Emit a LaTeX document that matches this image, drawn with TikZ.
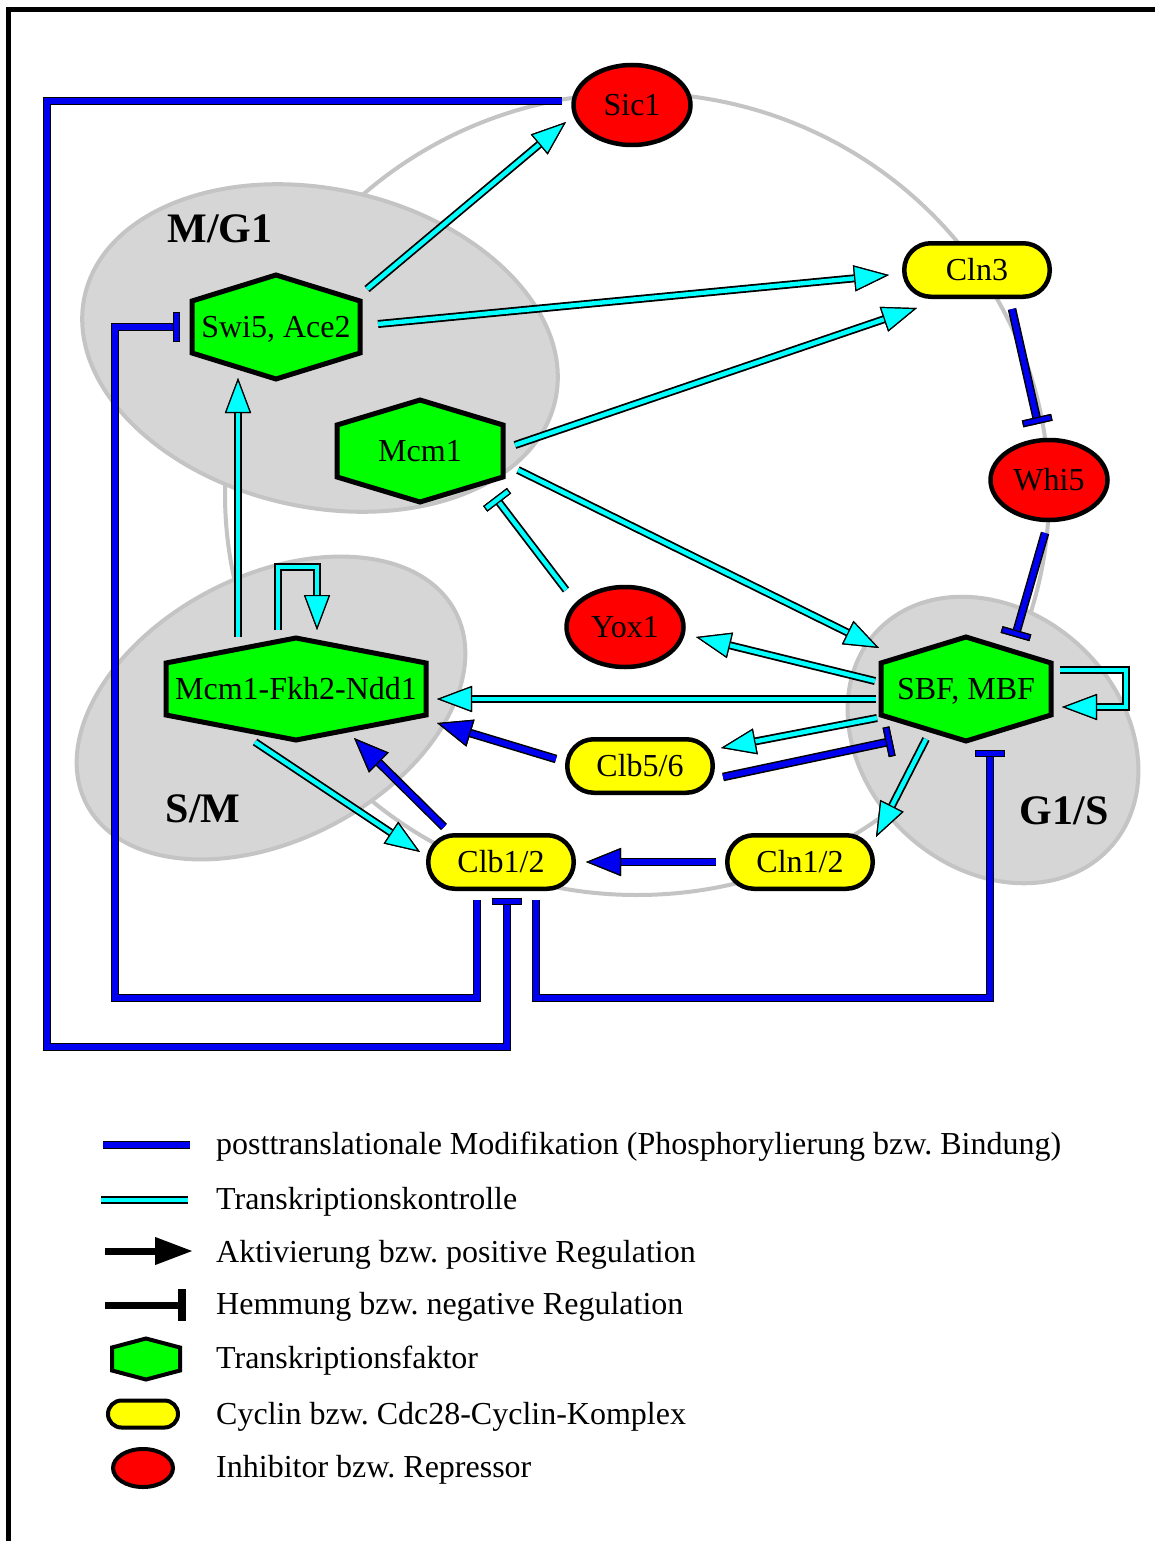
\documentclass[tikz,border=0pt]{standalone}
\usepackage{fontspec}
\setmainfont{Liberation Serif}
\usetikzlibrary{arrows.meta,shapes.geometric,calc}
\frenchspacing
\definecolor{cblue}{RGB}{0,0,240}
\definecolor{ccyan}{RGB}{0,255,255}
\definecolor{cgreen}{RGB}{0,255,0}
\definecolor{cyellow}{RGB}{255,255,0}
\definecolor{cred}{RGB}{255,0,0}
\definecolor{phasefill}{RGB}{214,214,214}
\definecolor{phaseline}{RGB}{196,196,196}
\newcommand{\myNodeFont}{\fontsize{32pt}{38pt}\selectfont}
\newcommand{\myPhaseFont}{\fontsize{42pt}{48pt}\selectfont\bfseries}
% style, name, x, y, half width, half height, half side, text
\newcommand{\hexnode}[8]{%
  \draw[#1] ({#3-#5},{#4-#7}) -- (#3,{#4-#6}) -- ({#3+#5},{#4-#7}) -- ({#3+#5},{#4+#7}) -- (#3,{#4+#6}) -- ({#3-#5},{#4+#7}) -- cycle;
  \node[nodetext] (#2) at (#3,#4) {#8};
}
\tikzset{
  nodetext/.style={inner sep=0pt, font=\myNodeFont, text height=21pt, text depth=0pt},
  hexdraw/.style={draw=black, fill=cgreen, line width=5pt, line join=miter},
  hexsmall/.style={draw=black, fill=cgreen, line width=4pt, line join=miter},
  redell/.style={ellipse, draw=black, fill=cred, line width=4.5pt, minimum width=117pt, minimum height=80pt, nodetext},
  ybox/.style={rectangle, rounded corners=26.5pt, draw=black, fill=cyellow, line width=4.5pt, minimum width=145.5pt, minimum height=53.5pt, nodetext},
  phase/.style={draw=phaseline, fill=phasefill, line width=4pt},
  ring/.style={draw=phaseline, line width=4pt},
  phaselabel/.style={inner sep=0pt, font=\myPhaseFont, text height=28pt, text depth=0pt},
  legtext/.style={anchor=base west, inner sep=0pt, font=\myNodeFont},
  cyanline/.style={draw=ccyan, line width=4.4pt, preaction={draw=black, line width=8pt}},
  blueline/.style={draw=cblue, line width=5.6pt, preaction={draw=black, line width=8.6pt}},
  cyanarrow/.style={cyanline, -{Triangle[length=35pt, width=26pt, fill=ccyan, color=black, line width=1.2pt]}},
  bluearrow/.style={blueline, -{Triangle[length=35pt, width=28pt, fill=cblue, color=black, line width=1.2pt]}},
  cyanbar/.style={cyanline, -{Rectangle[length=7pt, width=30pt, fill=ccyan, color=black, line width=1.2pt]}},
  bluebar/.style={blueline, -{Rectangle[length=7pt, width=30pt, fill=cblue, color=black, line width=1.2pt]}},
}
\begin{document}
\begin{tikzpicture}[x=1pt,y=-1pt]
\useasboundingbox (0,0) rectangle (1155,1541);
\fill[white] (0,0) rectangle (1155,1541);
% frame
\draw[line width=5pt] (8.5,1545) -- (8.5,9.5) -- (1160,9.5);

% cycle ring and phases
\draw[ring] (637,494) ellipse [x radius=412pt, y radius=401pt];
\filldraw[phase, shift={(320,348)}, rotate=-12.5] (0,0) ellipse [x radius=241pt, y radius=159pt];
\filldraw[phase, shift={(271,708)}, rotate=27.5] (0,0) ellipse [x radius=208pt, y radius=132pt];
\filldraw[phase, shift={(993,740)}, rotate=-43] (0,0) ellipse [x radius=159pt, y radius=128pt];

\node[phaselabel] (lmg1) at (220,228) {M/G1};
\node[phaselabel] (lsm) at (203,808) {S/M};
\node[phaselabel] (lg1s) at (1064,810) {G1/S};

% nodes
\node[redell] (sic) at (632,105) {Sic1};
\node[redell] (whi5) at (1049,480) {Whi5};
\node[redell] (yox) at (625,627) {Yox1};
\node[ybox] (cln3) at (977,270) {Cln3};
\node[ybox] (clb56) at (640,766) {Clb5/6};
\node[ybox] (cln12) at (800,862) {Cln1/2};
\node[ybox] (clb12) at (501,862) {Clb1/2};
\hexnode{hexdraw}{swi}{276}{327}{84}{52}{26}{Swi5, Ace2}
\hexnode{hexdraw}{mcm}{420}{451}{83}{51}{26}{Mcm1}
\hexnode{hexdraw}{mfn}{296}{689}{130}{51}{26}{Mcm1-Fkh2-Ndd1}
\hexnode{hexdraw}{sbf}{966}{689}{85}{52}{26}{SBF, MBF}

% transcription control (cyan)
\draw[cyanarrow] ($(swi)+(91,-38)$) -- ($(sic)+(-66,17)$);
\draw[cyanarrow] ($(swi)+(102,-3)$) -- ($(cln3)+(-88,5)$);
\draw[cyanarrow] ($(mcm)+(95,-6)$) -- ($(cln3)+(-60,38)$);
\draw[cyanarrow] ($(mcm)+(98,19)$) -- ($(sbf)+(-87,-41)$);
\draw[cyanbar] ($(yox)+(-59,-37)$) -- ($(mcm)+(75,46)$);
\draw[cyanarrow] ($(mfn)+(-58,-52)$) -- ($(swi)+(-38,51)$);
\draw[cyanarrow] ($(mfn)+(-18,-59)$) -- ++(0,-63) -| ($(mfn)+(21,-59)$);
\draw[cyanarrow] ($(mfn)+(-41,53)$) -- ($(clb12)+(-81,-10)$);
\draw[cyanarrow] ($(sbf)+(-90,10)$) -- ($(mfn)+(141,10)$);
\draw[cyanarrow] ($(sbf)+(-91,-8)$) -- ($(yox)+(71,10)$);
\draw[cyanarrow] ($(sbf)+(-89,29)$) -- ($(clb56)+(81,-18)$);
\draw[cyanarrow] ($(sbf)+(-40,50)$) -- ($(cln12)+(76,-25)$);
\draw[cyanarrow] ($(sbf)+(94,-19)$) -- ++(66,0) |- ($(sbf)+(96,18)$);

% posttranslational modification (blue)
\draw[bluebar] ($(sic)+(-70,-4)$) -- ++(-515,0) -- ++(0,946) -- ++(460,0) -- ($(clb12)+(6,36)$);
\draw[bluebar] ($(clb12)+(-24,38)$) -- ++(0,98) -- ++(-362,0) |- ($(swi)+(-96,0)$);
\draw[bluebar] ($(clb12)+(35,38)$) -- ++(0,98) -| ($(sbf)+(24,61)$);
\draw[bluebar] ($(cln3)+(35,39)$) -- ($(whi5)+(-11,-56)$);
\draw[bluebar] ($(whi5)+(-4,53)$) -- ($(sbf)+(49,-52)$);
\draw[bluebar] ($(clb56)+(83,11)$) -- ($(sbf)+(-73.5,52)$);
\draw[bluearrow] ($(clb56)+(-84,-7)$) -- ($(mfn)+(141,34)$);
\draw[bluearrow] ($(clb12)+(-57,-35)$) -- ($(mfn)+(58,49)$);
\draw[bluearrow] ($(cln12)+(-84,0)$) -- ($(clb12)+(85,0)$);

% legend
\draw[blueline] (103,1145) -- (190,1145);
\draw[cyanline] (101,1200) -- (188,1200);
\draw[line width=7pt, -{Triangle[length=38pt, width=26pt]}] (105,1251) -- (193,1251);
\draw[line width=7pt, -{Rectangle[length=8pt, width=32pt]}] (105,1305) -- (186,1305);
\hexnode{hexsmall}{leghex}{146}{1359}{34}{20.5}{11.5}{}
\node[ybox, minimum width=70pt, minimum height=27pt, rounded corners=13.5pt, line width=4pt] (legcyc) at (143,1414) {};
\node[redell, minimum width=60pt, minimum height=38pt, line width=4pt] (leginh) at (143,1468) {};

\node[legtext] (t1) at (216,1154) {posttranslationale Modifikation (Phosphorylierung bzw. Bindung)};
\node[legtext] (t2) at (216,1209) {Transkriptionskontrolle};
\node[legtext] (t3) at (216,1262) {Aktivierung bzw. positive Regulation};
\node[legtext] (t4) at (216,1314) {Hemmung bzw. negative Regulation};
\node[legtext] (t5) at (216,1368) {Transkriptionsfaktor};
\node[legtext] (t6) at (216,1424) {Cyclin bzw. Cdc28-Cyclin-Komplex};
\node[legtext] (t7) at (216,1477) {Inhibitor bzw. Repressor};
\end{tikzpicture}
\end{document}
